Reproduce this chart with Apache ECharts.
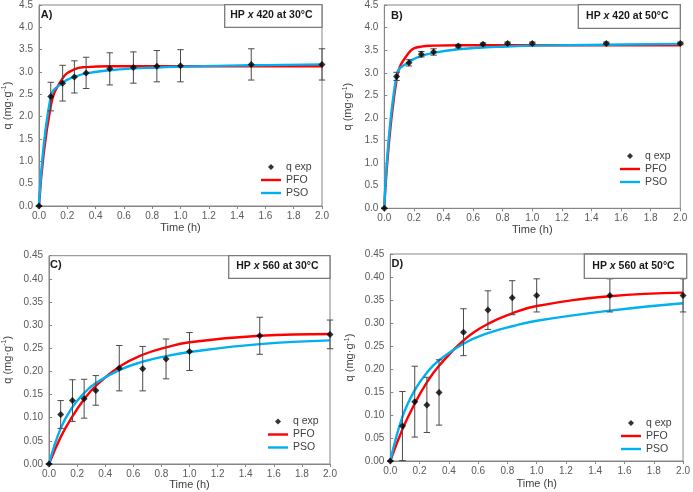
<!DOCTYPE html>
<html>
<head>
<meta charset="utf-8">
<script src="https://cdn.jsdelivr.net/npm/echarts@6/dist/echarts.min.js"></script>
<style>
html,body{margin:0;padding:0;background:#fff;}
#c{width:693px;height:492px;}
</style>
</head>
<body>
<div id="c"></div>
<script>
// ---- data ----
const times = [0, 0.083, 0.167, 0.25, 0.333, 0.5, 0.667, 0.833, 1.0, 1.5, 2.0];
const xTicks = [0, 0.2, 0.4, 0.6, 0.8, 1.0, 1.2, 1.4, 1.6, 1.8, 2.0];

// Panel A: HP x 420 at 30°C
const qExpA = [0, 2.45, 2.75, 2.89, 2.98, 3.07, 3.10, 3.13, 3.14, 3.17, 3.17];
const errA  = [0, 0.32, 0.40, 0.36, 0.35, 0.36, 0.35, 0.35, 0.36, 0.35, 0.35];
const pfoA  = [0, 2.23, 2.86, 3.06, 3.11, 3.13, 3.13, 3.13, 3.13, 3.13, 3.13];
const psoA  = [0, 2.45, 2.76, 2.89, 2.97, 3.04, 3.08, 3.10, 3.12, 3.15, 3.17];

// Panel B: HP x 420 at 50°C
const qExpB = [0, 2.92, 3.22, 3.41, 3.46, 3.59, 3.63, 3.65, 3.65, 3.65, 3.65];
const errB  = [0, 0.09, 0.07, 0.06, 0.07, 0.04, 0.03, 0.03, 0.03, 0.03, 0.03];
const pfoB  = [0, 2.85, 3.45, 3.58, 3.60, 3.61, 3.61, 3.61, 3.61, 3.61, 3.61];
const psoB  = [0, 2.95, 3.24, 3.37, 3.44, 3.52, 3.56, 3.58, 3.60, 3.62, 3.64];

// Panel C: HP x 560 at 30°C
const qExpC = [0, 0.107, 0.137, 0.141, 0.159, 0.207, 0.206, 0.227, 0.243, 0.277, 0.280];
const errC  = [0, 0.030, 0.045, 0.042, 0.032, 0.049, 0.048, 0.043, 0.041, 0.040, 0.031];
const pfoC  = [0, 0.058, 0.103, 0.140, 0.169, 0.210, 0.236, 0.252, 0.263, 0.277, 0.281];
const psoC  = [0, 0.077, 0.123, 0.153, 0.175, 0.203, 0.221, 0.233, 0.242, 0.259, 0.267];

// Panel D: HP x 560 at 50°C
const qExpD = [0, 0.076, 0.129, 0.122, 0.149, 0.280, 0.328, 0.355, 0.360, 0.360, 0.360];
const errD  = [0, 0.075, 0.077, 0.060, 0.071, 0.051, 0.042, 0.037, 0.036, 0.036, 0.036];
const pfoD  = [0, 0.069, 0.125, 0.171, 0.207, 0.262, 0.298, 0.321, 0.337, 0.358, 0.366];
const psoD  = [0, 0.096, 0.154, 0.192, 0.219, 0.255, 0.278, 0.293, 0.305, 0.327, 0.343];

const panelLetters = ['A)', 'B)', 'C)', 'D)'];
const panelCodes = ['420', '420', '560', '560'];
const panelTemps = ['30°C', '50°C', '30°C', '50°C'];
const legendNames = ['q exp', 'PFO', 'PSO'];
const yMaxes = [4.5, 4.5, 0.45, 0.45];
const yIntervals = [0.5, 0.5, 0.05, 0.05];
const yDecimals = [1, 1, 2, 2];

const panels = [
  {q: qExpA, e: errA, pfo: pfoA, pso: psoA},
  {q: qExpB, e: errB, pfo: pfoB, pso: psoB},
  {q: qExpC, e: errC, pfo: pfoC, pso: psoC},
  {q: qExpD, e: errD, pfo: pfoD, pso: psoD}
];

// ---- layout (pixels) ----
const layout = [
  {left: 34.3, top: 4.7, width: 287.7, height: 201.3, yGap: 24, xGap: 16,
   box: [224.7, 4.7, 97.3, 22.6], lab: [40.7, 14.5], leg: [261, 160.5]},
  {left: 384.3, top: 4.7, width: 296, height: 203.6, yGap: 29, xGap: 15,
   box: [578.3, 4.7, 102, 23.6], lab: [391, 15.7], leg: [620, 149.5]},
  {left: 43.3, top: 255.7, width: 286.7, height: 208.3, yGap: 34, xGap: 15,
   box: [228.7, 255.7, 101.3, 22.6], lab: [50, 265], leg: [268, 415]},
  {left: 390.3, top: 254, width: 296.4, height: 207, yGap: 33, xGap: 17,
   box: [584.3, 254, 102.4, 24.3], lab: [391.5, 264], leg: [621, 416.5]}
];

const RED = '#ff0000', BLUE = '#00b0f0', AXIS = '#868686', TXT = '#404040';
const FONT = '"Liberation Sans", Arial, sans-serif';
const LINE_ICON = 'path://M0,0L20,0L20,2.4L0,2.4Z';

const grids = [], xAxes = [], yAxes = [], series = [], legends = [], graphics = [];

panels.forEach((p, i) => {
  const L = layout[i];
  grids.push({left: L.left, top: L.top, width: L.width, height: L.height,
    show: true, borderColor: AXIS, borderWidth: 1, containLabel: false});
  xAxes.push({
    gridIndex: i, type: 'value', min: 0, max: 2, interval: 0.2,
    axisLine: {show: true, lineStyle: {color: AXIS}},
    axisTick: {show: true, inside: false, length: 3, lineStyle: {color: AXIS}},
    axisLabel: {fontSize: 10, color: '#595959', margin: 5, fontFamily: FONT,
      formatter: v => v.toFixed(1)},
    splitLine: {show: false},
    name: 'Time (h)', nameLocation: 'middle', nameGap: L.xGap,
    nameTextStyle: {fontSize: 11, color: TXT, fontFamily: FONT}
  });
  yAxes.push({
    gridIndex: i, type: 'value', min: 0, max: yMaxes[i], interval: yIntervals[i],
    axisLine: {show: true, lineStyle: {color: AXIS}},
    axisTick: {show: true, inside: true, length: 3, lineStyle: {color: AXIS}},
    axisLabel: {fontSize: 10, color: '#595959', margin: 6, fontFamily: FONT,
      formatter: v => v.toFixed(yDecimals[i])},
    splitLine: {show: false},
    name: 'q (mg·g{s|-1})', nameLocation: 'middle', nameGap: L.yGap, nameRotate: 90,
    nameTextStyle: {fontSize: 11, color: TXT, fontFamily: FONT, lineHeight: 14,
      rich: {s: {fontSize: 7, verticalAlign: 'top', lineHeight: 9, color: TXT, fontFamily: FONT}}}
  });

  const curve = arr => times.map((t, k) => [t, arr[k]]);
  series.push({
    name: 'PFO', type: 'line', xAxisIndex: i, yAxisIndex: i, data: curve(p.pfo),
    smooth: 0.45, symbol: 'none', showSymbol: false, z: 2,
    lineStyle: {color: RED, width: 2.4}, itemStyle: {color: RED}
  });
  series.push({
    name: 'PSO', type: 'line', xAxisIndex: i, yAxisIndex: i, data: curve(p.pso),
    smooth: 0.45, symbol: 'none', showSymbol: false, z: 2,
    lineStyle: {color: BLUE, width: 2.4}, itemStyle: {color: BLUE}
  });
  series.push({
    name: 'err' + i, type: 'custom', xAxisIndex: i, yAxisIndex: i, z: 3,
    data: times.map((t, k) => [t, p.q[k] - p.e[k], p.q[k] + p.e[k]]),
    encode: {x: 0, y: [1, 2]},
    renderItem: (params, api) => {
      const x = api.value(0);
      const hi = api.coord([x, api.value(2)]);
      const lo = api.coord([x, api.value(1)]);
      const w = 3.2;
      const st = {stroke: '#4a4a4a', lineWidth: 1};
      return {type: 'group', children: [
        {type: 'line', shape: {x1: hi[0], y1: hi[1], x2: lo[0], y2: lo[1]}, style: st},
        {type: 'line', shape: {x1: hi[0] - w, y1: hi[1], x2: hi[0] + w, y2: hi[1]}, style: st},
        {type: 'line', shape: {x1: lo[0] - w, y1: lo[1], x2: lo[0] + w, y2: lo[1]}, style: st}
      ]};
    }
  });
  series.push({
    name: 'q exp', type: 'scatter', xAxisIndex: i, yAxisIndex: i, z: 4,
    data: curve(p.q), symbol: 'diamond', symbolSize: 7,
    itemStyle: {color: '#000'}
  });

  legends.push({
    orient: 'vertical', left: L.leg[0], top: L.leg[1], padding: 0, itemGap: 0,
    itemWidth: 20, itemHeight: 6, selectedMode: false,
    textStyle: {fontSize: 10.5, color: TXT, fontFamily: FONT, lineHeight: 13},
    data: [
      {name: legendNames[0], icon: 'path://M0,-1L1,0L0,1L-1,0Z'},
      {name: legendNames[1], icon: LINE_ICON, itemStyle: {color: RED}},
      {name: legendNames[2], icon: LINE_ICON, itemStyle: {color: BLUE}}
    ]
  });

  const b = L.box;
  graphics.push({
    type: 'rect', shape: {x: b[0], y: b[1], width: b[2], height: b[3]},
    style: {fill: '#fff', stroke: '#7a7a7a', lineWidth: 1.3}, z: 100
  });
  graphics.push({
    type: 'text', x: b[0] + b[2] / 2 - 2, y: b[1] + b[3] / 2 - 0.5, z: 101,
    style: {
      text: '{b|HP }{i|x}{b| ' + panelCodes[i] + ' at ' + panelTemps[i] + '}',
      align: 'center', verticalAlign: 'middle',
      rich: {
        b: {fontSize: 10.5, fontWeight: 'bold', fill: '#1a1a1a', fontFamily: FONT},
        i: {fontSize: 10.5, fontWeight: 'bold', fontStyle: 'italic', fill: '#1a1a1a', fontFamily: FONT}
      }
    }
  });
  graphics.push({
    type: 'text', x: L.lab[0], y: L.lab[1], z: 101,
    style: {text: panelLetters[i], fontSize: 11, fontWeight: 'bold', fill: '#1a1a1a',
      fontFamily: FONT, align: 'left', verticalAlign: 'middle'}
  });
});

const chart = echarts.init(document.getElementById('c'), null, {renderer: 'canvas'});
chart.setOption({
  animation: false,
  backgroundColor: '#fff',
  textStyle: {fontFamily: FONT},
  grid: grids, xAxis: xAxes, yAxis: yAxes, series: series,
  legend: legends, graphic: graphics
});
</script>
</body>
</html>
